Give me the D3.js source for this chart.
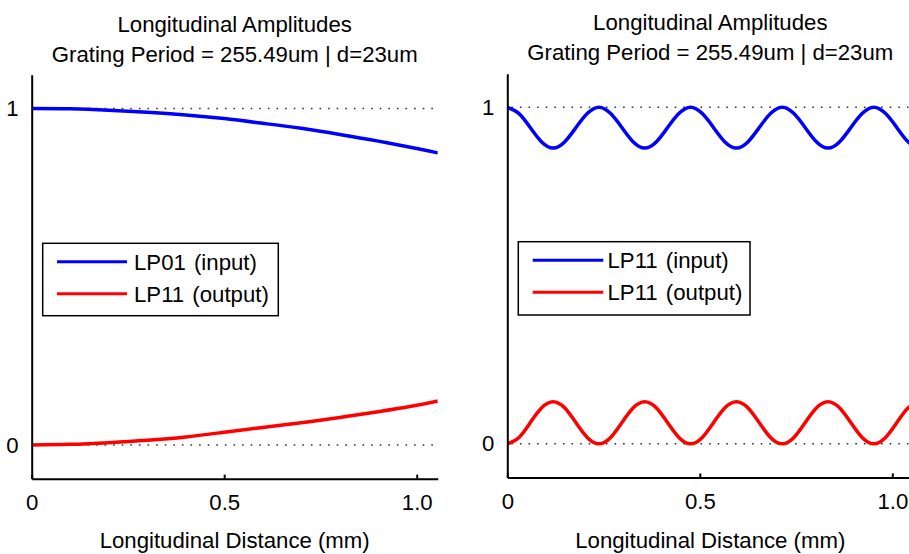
<!DOCTYPE html>
<html>
<head>
<meta charset="utf-8">
<script src="https://cdn.jsdelivr.net/npm/d3@7"></script>
<style>
  html, body { margin: 0; padding: 0; background: #ffffff; }
  svg text { font-family: "Liberation Sans", Arial, sans-serif; fill: #000; }
</style>
</head>
<body>
<div id="chart"></div>
<script>
// Left panel: LP01 -> LP11 coupling (slow exchange)
const distLeft = [0, 0.1, 0.2, 0.3, 0.4, 0.5, 0.6, 0.7, 0.8, 0.9, 1.0, 1.055];
const lp01Input = [1, 0.999, 0.995, 0.989, 0.981, 0.970, 0.956, 0.941, 0.923, 0.903, 0.881, 0.868];
const lp11OutputLeft = [0, 0.002, 0.007, 0.014, 0.024, 0.038, 0.052, 0.066, 0.082, 0.099, 0.118, 0.131];

// Right panel: LP11 -> LP11 (fast, small oscillation)
const distRight = [0, 0.0298, 0.0595, 0.0893, 0.119, 0.1488, 0.1785, 0.2083, 0.238, 0.2678,
  0.2975, 0.3273, 0.357, 0.3868, 0.4165, 0.4463, 0.476, 0.5058, 0.5355, 0.5653,
  0.595, 0.6248, 0.6545, 0.6843, 0.714, 0.7438, 0.7735, 0.8033, 0.833, 0.8628,
  0.8925, 0.9223, 0.952, 0.9818, 1.0115, 1.0413, 1.071];
const lp11Input = [1, 0.982, 0.940, 0.897, 0.879, 0.897, 0.940, 0.982, 1, 0.982,
  0.940, 0.897, 0.879, 0.897, 0.940, 0.982, 1, 0.982, 0.940, 0.897,
  0.879, 0.897, 0.940, 0.982, 1, 0.982, 0.940, 0.897, 0.879, 0.897,
  0.940, 0.982, 1, 0.982, 0.940, 0.897, 0.879];
const lp11OutputRight = [0, 0.018, 0.0625, 0.107, 0.125, 0.107, 0.0625, 0.018, 0, 0.018,
  0.0625, 0.107, 0.125, 0.107, 0.0625, 0.018, 0, 0.018, 0.0625, 0.107,
  0.125, 0.107, 0.0625, 0.018, 0, 0.018, 0.0625, 0.107, 0.125, 0.107,
  0.0625, 0.018, 0, 0.018, 0.0625, 0.107, 0.125];

const xTicks = [0, 0.5, 1.0];
const xTickLabels = ['0', '0.5', '1.0'];
const yTicks = [0, 1];
const yTickLabels = ['0', '1'];
const refLevels = [0, 1];
const titleLines = ['Longitudinal Amplitudes', 'Grating Period = 255.49um | d=23um'];
const xLabel = 'Longitudinal Distance (mm)';
const xDomain = [0, 1.0545];
const yDomain = [-0.1, 1.1];

const W = 909, H = 554;
const FS = 22.2;

const svg = d3.select('#chart').append('svg')
  .attr('width', W)
  .attr('height', H);

const panels = [
  { id: 'L', x0: 31.7, dy: 0, dist: distLeft, input: lp01Input, output: lp11OutputLeft,
    legend: ['LP01 (input)', 'LP11 (output)'],
    box: { x: 42.7, y: 243.3, w: 235.6, h: 72.4 }, lineX: [57, 127], textX: 134 },
  { id: 'R', x0: 507.3, dy: -1.2, dist: distRight, input: lp11Input, output: lp11OutputRight,
    legend: ['LP11 (input)', 'LP11 (output)'],
    box: { x: 518.3, y: 241.7, w: 231.7, h: 73.3 }, lineX: [532.7, 603.3], textX: 607.5 }
];

panels.forEach(p => {
  const x = d3.scaleLinear().domain(xDomain).range([p.x0, p.x0 + 406]);
  const y = d3.scaleLinear().domain(yDomain).range([478.65 + p.dy, 74.85 + p.dy]);
  const g = svg.append('g');

  // clip for the curves
  svg.append('clipPath').attr('id', 'clip' + p.id)
    .append('rect')
    .attr('x', x.range()[0]).attr('y', y.range()[1])
    .attr('width', x.range()[1] - x.range()[0])
    .attr('height', y.range()[0] - y.range()[1]);

  // dotted reference lines at 0 and 1
  g.selectAll('.ref')
    .data(refLevels)
    .join('line')
    .attr('class', 'ref')
    .attr('x1', x(0) + 4).attr('x2', x(xDomain[1]))
    .attr('y1', d => y(d)).attr('y2', d => y(d))
    .attr('stroke', '#333')
    .attr('stroke-width', 1.6)
    .attr('stroke-dasharray', '1.6,7');

  // curves
  const line = d3.line()
    .x(d => x(d[0]))
    .y(d => y(d[1]))
    .curve(d3.curveNatural);

  const series = [
    { vals: p.input, color: '#0000ff' },
    { vals: p.output, color: '#ff0000' }
  ];
  g.append('g').attr('clip-path', `url(#clip${p.id})`)
    .selectAll('path')
    .data(series)
    .join('path')
    .attr('d', s => line(p.dist.map((d, i) => [d, s.vals[i]])))
    .attr('fill', 'none')
    .attr('stroke', s => s.color)
    .attr('stroke-width', 3.5)
    .attr('stroke-linejoin', 'round');

  // x axis
  const xAxis = g.append('g')
    .attr('transform', `translate(0,${y(yDomain[0])})`)
    .call(d3.axisBottom(x)
      .tickValues(xTicks)
      .tickFormat((d, i) => xTickLabels[i])
      .tickSize(-4)
      .tickSizeOuter(0)
      .tickPadding(16));
  xAxis.select('.domain').attr('stroke', '#000').attr('stroke-width', 2);
  xAxis.selectAll('.tick line').attr('stroke', '#000').attr('stroke-width', 2);
  xAxis.selectAll('.tick text')
    .attr('font-size', FS)
    .attr('font-family', '"Liberation Sans", Arial, sans-serif')
    .attr('fill', '#000');

  // y axis
  const yAxis = g.append('g')
    .attr('transform', `translate(${x(0)},0)`)
    .call(d3.axisLeft(y)
      .tickValues(yTicks)
      .tickFormat((d, i) => yTickLabels[i])
      .tickSize(0)
      .tickSizeOuter(0)
      .tickPadding(13));
  yAxis.select('.domain').attr('stroke', '#000').attr('stroke-width', 2);
  yAxis.selectAll('.tick text')
    .attr('font-size', FS)
    .attr('font-family', '"Liberation Sans", Arial, sans-serif')
    .attr('fill', '#000');

  const cx = (x.range()[0] + x.range()[1]) / 2;

  // title
  g.selectAll('.title')
    .data(titleLines)
    .join('text')
    .attr('class', 'title')
    .attr('x', cx)
    .attr('y', (d, i) => 32 + p.dy * 1.5 + i * 30)
    .attr('text-anchor', 'middle')
    .attr('font-size', FS)
    .text(d => d);

  // x label
  g.append('text')
    .attr('x', cx)
    .attr('y', 548)
    .attr('text-anchor', 'middle')
    .attr('font-size', FS)
    .text(xLabel);

  // legend
  const lg = g.append('g');
  lg.append('rect')
    .attr('x', p.box.x).attr('y', p.box.y)
    .attr('width', p.box.w).attr('height', p.box.h)
    .attr('fill', '#fff')
    .attr('stroke', '#000')
    .attr('stroke-width', 1.5);
  const rowY = [p.box.y + 18.5, p.box.y + 50.5];
  series.forEach((s, i) => {
    lg.append('line')
      .attr('x1', p.lineX[0]).attr('x2', p.lineX[1])
      .attr('y1', rowY[i]).attr('y2', rowY[i])
      .attr('stroke', s.color)
      .attr('stroke-width', 3);
    lg.append('text')
      .attr('x', p.textX)
      .attr('y', rowY[i])
      .attr('dy', '0.35em')
      .attr('font-size', FS)
      .attr('word-spacing', 2)
      .text(p.legend[i]);
  });
});
</script>
</body>
</html>
